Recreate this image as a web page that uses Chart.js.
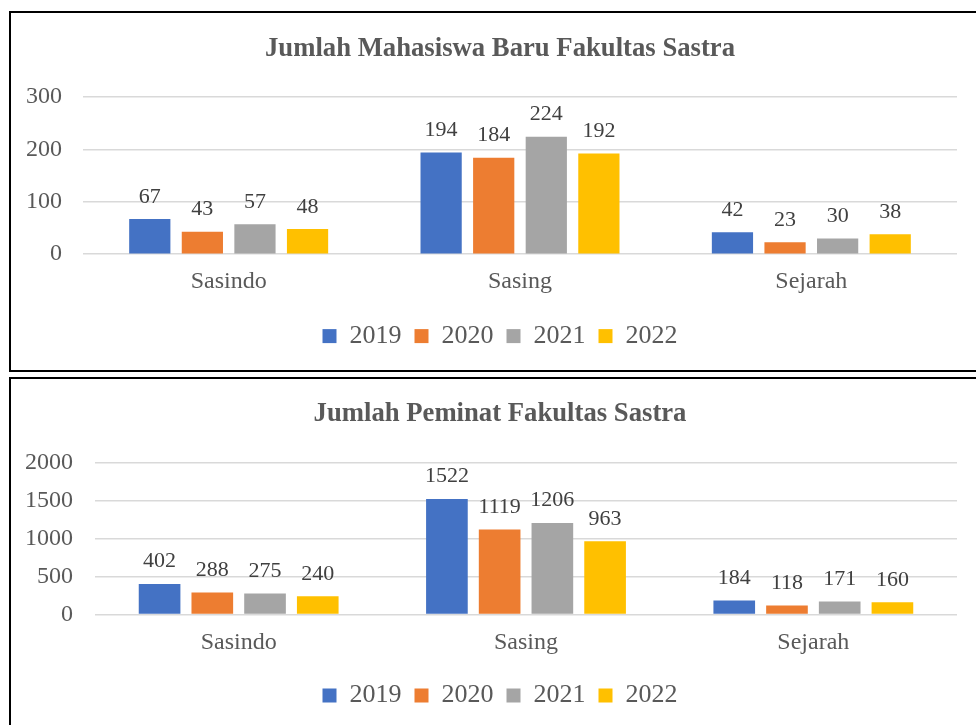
<!DOCTYPE html>
<html>
<head>
<meta charset="utf-8">
<script src="https://cdn.jsdelivr.net/npm/chart.js@4/dist/chart.umd.min.js"></script>
<style>
  html, body { margin: 0; padding: 0; background: #fff; width: 976px; height: 725px; overflow: hidden; }
  .box { position: absolute; left: 9px; width: 1000px; border: 2px solid #000; background: #fff; }
  #box1 { top: 11px; height: 357px; }
  #box2 { top: 377px; height: 400px; }
  .wrap { position: absolute; left: 0; top: 0; width: 965px; }
  #wrap1 { height: 357px; }
  #wrap2 { height: 346px; }
</style>
</head>
<body>
<div class="box" id="box1"><div class="wrap" id="wrap1"><canvas id="chartBaru"></canvas></div></div>
<div class="box" id="box2"><div class="wrap" id="wrap2"><canvas id="chartPeminat"></canvas></div></div>

<script>
'use strict';

/* ---- data ---- */
const categories = ['Sasindo', 'Sasing', 'Sejarah'];
const years = ['2019', '2020', '2021', '2022'];
const colors = ['#4472C4', '#ED7D31', '#A5A5A5', '#FFC000'];

// Jumlah mahasiswa baru (Sasindo, Sasing, Sejarah)
const baru2019 = [67, 194, 42];
const baru2020 = [43, 184, 23];
const baru2021 = [57, 224, 30];
const baru2022 = [48, 192, 38];
const baruTicks = [0, 100, 200, 300];

// Jumlah peminat (Sasindo, Sasing, Sejarah)
const peminat2019 = [402, 1522, 184];
const peminat2020 = [288, 1119, 118];
const peminat2021 = [275, 1206, 171];
const peminat2022 = [240, 963, 160];
const peminatTicks = [0, 500, 1000, 1500, 2000];

const FONT = "'Liberation Serif', 'Times New Roman', serif";
const TEXT = '#595959';

/* label nilai di atas batang */
const valueLabels = {
    id: 'valueLabels',
    afterDatasetsDraw(chart) {
        const ctx = chart.ctx;
        ctx.save();
        ctx.font = '22px ' + FONT;
        ctx.fillStyle = '#404040';
        ctx.textAlign = 'center';
        ctx.textBaseline = 'alphabetic';
        chart.data.datasets.forEach((ds, i) => {
            chart.getDatasetMeta(i).data.forEach((bar, j) => {
                ctx.fillText(String(ds.data[j]), bar.x, bar.y - 16.5);
            });
        });
        ctx.restore();
    }
};

/* judul & legend digeser sedikit ke kanan (kotak asli lebih lebar dari layar) */
const centerShift = {
    id: 'centerShift',
    afterLayout(chart) {
        const dx = 16;
        [chart.titleBlock, chart.legend].forEach(b => {
            if (b) { b.left += dx; b.right += dx; }
        });
    }
};

function makeChart(id, title, series, ticks, lay) {
    const step = ticks[1] - ticks[0];
    return new Chart(document.getElementById(id), {
        type: 'bar',
        data: {
            labels: categories,
            datasets: series.map((s, i) => ({
                label: years[i],
                data: s,
                backgroundColor: colors[i],
                categoryPercentage: lay.cp,
                barPercentage: lay.bp
            }))
        },
        options: {
            responsive: true, maintainAspectRatio: false,
            animation: false,
            events: [],
            layout: { padding: { left: 0, right: 19, top: 0, bottom: lay.padBottom } },
            plugins: {
                title: {
                    display: true, text: title, color: TEXT,
                    font: { family: FONT, size: 26.7, weight: 'bold', lineHeight: 1.2 },
                    padding: { top: lay.titleTop, bottom: lay.titleBottom }
                },
                legend: {
                    position: 'bottom',
                    labels: {
                        color: TEXT, boxWidth: 14, boxHeight: 14, padding: 13,
                        font: { family: FONT, size: 26 }
                    }
                },
                tooltip: { enabled: false }
            },
            scales: {
                x: {
                    grid: { display: false, drawTicks: false },
                    border: { display: false },
                    ticks: { color: TEXT, padding: lay.xPad, font: { family: FONT, size: 24 } },
                    afterFit: s => { s.height = lay.xHeight; }
                },
                y: {
                    min: ticks[0], max: ticks[ticks.length - 1],
                    grid: { color: '#D9D9D9', lineWidth: 1.5, drawTicks: false },
                    border: { display: false },
                    ticks: {
                        stepSize: step, color: TEXT, padding: lay.yPad,
                        font: { family: FONT, size: 24 },
                        callback: v => String(v)
                    },
                    afterFit: s => { s.width = lay.yWidth; }
                }
            }
        },
        plugins: [valueLabels, centerShift]
    });
}

makeChart('chartBaru', 'Jumlah Mahasiswa Baru Fakultas Sastra',
    [baru2019, baru2020, baru2021, baru2022], baruTicks,
    { cp: 0.722, bp: 0.784, titleTop: 20.4, titleBottom: 31.4, xPad: 13.6, xHeight: 55.9,
      padBottom: 10.9, yWidth: 72, yPad: 21 });

makeChart('chartPeminat', 'Jumlah Peminat Fakultas Sastra',
    [peminat2019, peminat2020, peminat2021, peminat2022], peminatTicks,
    { cp: 0.734, bp: 0.79, titleTop: 19.4, titleBottom: 32.2, xPad: 13.9, xHeight: 55.2,
      padBottom: 6.4, yWidth: 84, yPad: 22 });
</script>
</body>
</html>
